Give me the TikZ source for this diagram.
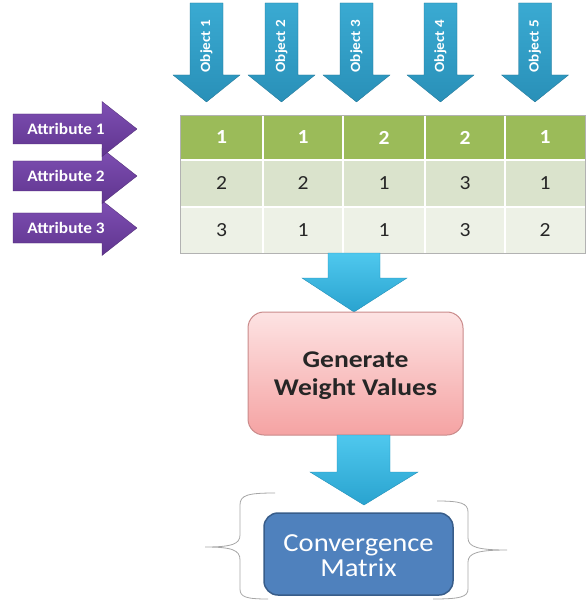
\documentclass[tikz,border=0pt]{standalone}
\usepackage{fontspec}
\setmainfont{Carlito}[FakeStretch=1.08]
\newfontfamily\genfont{Carlito}[FakeStretch=1.15]
\newfontfamily\convfont{Carlito}[FakeStretch=1.1]
\definecolor{objtop}{HTML}{3AAAD2}
\definecolor{objbot}{HTML}{2990B8}
\definecolor{purtop}{HTML}{7E4FB3}
\definecolor{purbot}{HTML}{60358F}
\definecolor{hdrgreen}{HTML}{9BBB59}
\definecolor{rowtwo}{HTML}{DAE3CC}
\definecolor{rowthree}{HTML}{EDF1E6}
\definecolor{cyantop}{HTML}{4FC8EE}
\definecolor{cyanbot}{HTML}{29A3CF}
\definecolor{cyanedge}{HTML}{2390B8}
\definecolor{pinktop}{HTML}{FDE3E3}
\definecolor{pinkbot}{HTML}{F5A3A3}
\definecolor{pinkedge}{HTML}{C98A8A}
\definecolor{boxblue}{HTML}{4F81BD}
\definecolor{boxedge}{HTML}{385D8A}
\definecolor{bodytext}{HTML}{262626}
\tikzset{
  objfill/.style={top color=objtop, bottom color=objbot, draw=objbot!80!black, line width=0.3pt},
  objtext/.style={text=white, font=\fontsize{14}{14}\selectfont\bfseries, inner sep=0pt},
  attrfill/.style={top color=purtop, bottom color=purbot, draw=purbot!80!black, line width=0.3pt},
  attrtext/.style={text=white, font=\fontsize{16}{16}\selectfont\bfseries, inner sep=0pt},
  cellnum/.style={text=bodytext, font=\fontsize{20}{20}\selectfont, inner sep=0pt},
  hdrnum/.style={text=white, font=\fontsize{20}{20}\selectfont\bfseries, inner sep=0pt},
  flowfill/.style={top color=cyantop, bottom color=cyanbot, draw=cyanedge, line width=0.4pt},
  genbox/.style={rounded corners=16pt, top color=pinktop, bottom color=pinkbot, draw=pinkedge, line width=1pt},
  gentext/.style={text=bodytext, font=\genfont\fontsize{24}{28}\selectfont\bfseries, align=center, inner sep=0pt},
  convbox/.style={rounded corners=14pt, fill=boxblue, draw=boxedge, line width=1.5pt},
  convtext/.style={text=white, font=\convfont\fontsize{26}{25}\selectfont, align=center, inner sep=0pt},
  bracestyle/.style={draw=gray!70, line width=0.8pt}
}
\newcommand\objarrow[2]{%
  \path[objfill] (#1-16.5,3) -- (#1+16.5,3) -- (#1+16.5,75) -- (#1+33.5,75) -- (#1,102)
    -- (#1-33.5,75) -- (#1-16.5,75) -- cycle;
  \node[objtext, rotate=90] (obj#2) at (#1,46) {Object #2};
}
\newcommand\attrarrow[2]{%
  \path[attrfill] (13,#1-15) -- (102,#1-15) -- (102,#1-27.5) -- (137,#1) -- (102,#1+27.5)
    -- (102,#1+15) -- (13,#1+15) -- cycle;
  \node[attrtext] (attr#2) at (66,#1) {Attribute #2};
}
\begin{document}
\begin{tikzpicture}[x=1pt,y=-1pt]
\useasboundingbox (0,0) rectangle (587,601);
% object arrows
\objarrow{206.5}{1}
\objarrow{281.5}{2}
\objarrow{356.5}{3}
\objarrow{440.5}{4}
\objarrow{535}{5}
% attribute arrows
\attrarrow{228}{3}
\attrarrow{176}{2}
\attrarrow{129}{1}
% table
\fill[hdrgreen] (180,115) rectangle (585,160);
\fill[rowtwo] (180,160) rectangle (585,207);
\fill[rowthree] (180,207) rectangle (585,253);
\foreach \xx in {263,343,425,505} \draw[white, line width=1.2pt] (\xx,115) -- (\xx,253);
\draw[white, line width=1.2pt] (180,160) -- (585,160) (180,207) -- (585,207);
\draw[gray!60, line width=0.6pt] (180,115) rectangle (585,253);
\foreach \cx/\a/\b/\c [count=\i] in {221.5/1/2/3, 303/1/2/1, 384/2/1/1, 465/2/3/3, 545/1/1/2}{
  \node[hdrnum] (h\i) at (\cx,137.5) {\a};
  \node[cellnum] (r\i) at (\cx,183.5) {\b};
  \node[cellnum] (s\i) at (\cx,230) {\c};
}
% flow arrow 1
\path[flowfill] (328,253) -- (380,253) -- (380,278) -- (407,278) -- (354,312) -- (302,278) -- (328,278) -- cycle;
% generate box
\node[genbox, minimum width=215pt, minimum height=123pt] (gen) at (355.5,373.5) {};
\node[gentext] (gentxt) at (355.5,376) {Generate\\Weight Values};
% flow arrow 2
\path[flowfill] (337,435) -- (390,435) -- (390,472) -- (418,472) -- (364,505) -- (310,472) -- (337,472) -- cycle;
% convergence box
\node[convbox, minimum width=189pt, minimum height=82pt] (conv) at (358.5,554) {};
\node[convtext] (convtxt) at (358.5,555.5) {Convergence\\Matrix};
% braces
\draw[bracestyle] (275,493) .. controls (248,493) and (240,495) .. (240,505) -- (240,535)
  .. controls (240,544) and (232,547) .. (205,547)
  .. controls (232,547) and (240,550) .. (240,560) -- (240,589)
  .. controls (240,597) and (246,599) .. (268,599);
\draw[bracestyle] (437,501) .. controls (460,501) and (468,503) .. (468,512) -- (468,538)
  .. controls (468,547) and (478,550) .. (507,550)
  .. controls (478,550) and (468,553) .. (468,562) -- (468,589)
  .. controls (468,597) and (460,599) .. (433,599);
\end{tikzpicture}
\end{document}
